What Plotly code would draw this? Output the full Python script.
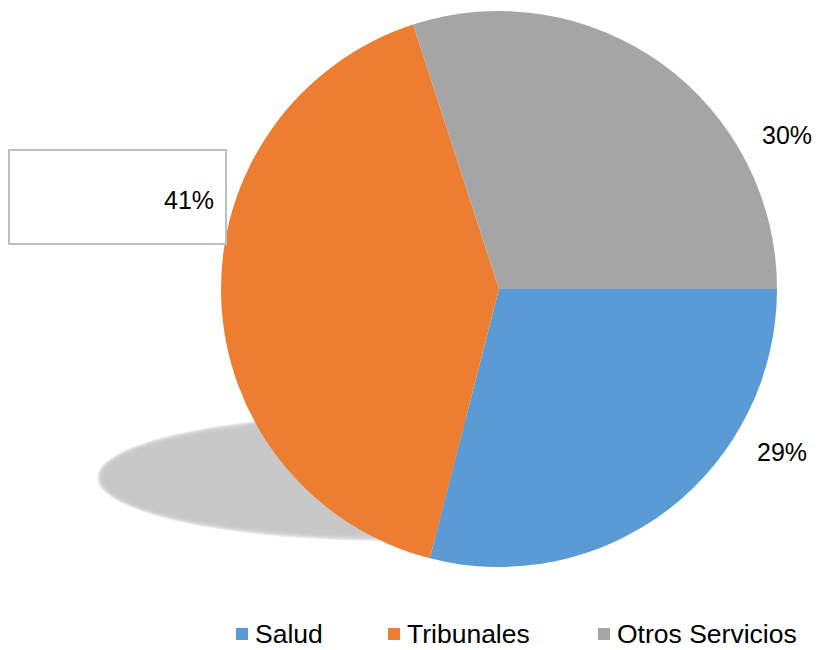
import plotly.graph_objects as go

# data
labels = ["Salud", "Tribunales", "Otros Servicios"]
values = [29, 41, 30]
colors = ["#5B9BD5", "#ED7D31", "#A5A5A5"]

W, H = 822, 650
FONT = "Arial, Liberation Sans, sans-serif"


def px(x):
    return x / W


def py(y):
    return 1 - y / H


total = sum(values)
pct = [f"{round(v / total * 100)}%" for v in values]

fig = go.Figure(go.Pie(
    labels=labels, values=values,
    marker=dict(colors=colors, line=dict(width=0)),
    sort=False, direction="clockwise", rotation=90,
    textinfo="none", hoverinfo="label+percent",
    domain=dict(x=[px(221), px(777)], y=[py(567), py(11)]),
    showlegend=False,
))

shapes = []
# soft shadow under the pie (stacked faint ellipses to fake a blur)
for grow in range(6, -1, -1):
    shapes.append(dict(type="circle", xref="paper", yref="paper", layer="below",
                       x0=px(103 - grow), x1=px(675 + grow),
                       y0=py(420 - grow), y1=py(535 + grow),
                       fillcolor="#c4c4c4", opacity=0.3, line=dict(width=0)))

# box round the 41% label
shapes.append(dict(type="rect", xref="paper", yref="paper",
                   x0=px(9), x1=px(226), y0=py(150), y1=py(244),
                   fillcolor="rgba(0,0,0,0)", line=dict(color="#BFBFBF", width=2)))

annotations = []
label_pos = [(782, 452, "center"), (216, 200, "right"), (787, 135, "center")]
for t, (x, y, anchor) in zip(pct, label_pos):
    annotations.append(dict(text=t, x=px(x), y=py(y), xref="paper", yref="paper",
                            xanchor=anchor, yanchor="middle", showarrow=False,
                            font=dict(family=FONT, size=25, color="#000000")))

# legend at the bottom
leg_x = [236, 388, 598]
for name, col, x in zip(labels, colors, leg_x):
    shapes.append(dict(type="rect", xref="paper", yref="paper",
                       x0=px(x), x1=px(x + 12), y0=py(628), y1=py(640),
                       fillcolor=col, line=dict(width=0)))
    annotations.append(dict(text=name, x=px(x + 17), y=py(634), xref="paper", yref="paper",
                            xanchor="left", yanchor="middle", showarrow=False,
                            font=dict(family=FONT, size=26.5, color="#000000")))

fig.update_layout(
    width=W, height=H,
    margin=dict(l=0, r=0, t=0, b=0),
    paper_bgcolor="white", plot_bgcolor="white",
    shapes=shapes, annotations=annotations,
)

# drop the default page margin so the figure sits at the window's corner
fig.write_html("out.html", config={"displayModeBar": False},
               post_script="document.body.style.margin='0';")
